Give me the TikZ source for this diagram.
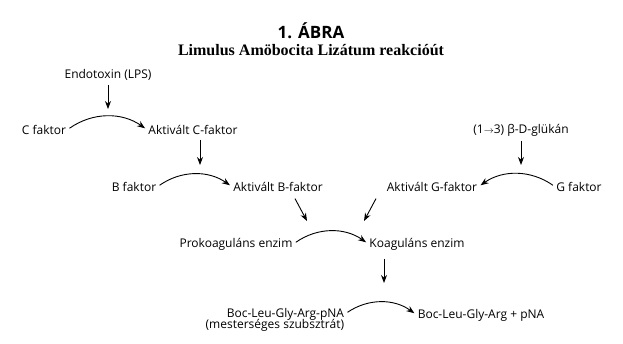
\documentclass[tikz,border=0pt]{standalone}
\usepackage{fontspec}
\setmainfont{Open Sans}
\newfontfamily\titleserif{Liberation Serif}
\usetikzlibrary{arrows.meta,calc}

\begin{document}
\begin{tikzpicture}[x=1pt,y=1pt,yscale=-1,xscale=1,
	lbl/.style={inner sep=0.75pt,font=\fontsize{12}{14}\selectfont},
	arr/.style={-{Stealth[length=8pt,width=6pt]},line width=0.9pt},
	bendarr/.style={arr,shorten <=3pt,shorten >=3pt}]
	\useasboundingbox (0,0) rectangle (623,343);
	
	% Title
	\node[inner sep=0.75pt,font=\bfseries\fontsize{17}{20}\selectfont] (title) at (311,31) {1. ÁBRA};
	\node[inner sep=0.75pt,font=\titleserif\bfseries\fontsize{16}{19}\selectfont] (subtitle) at (311,50) {Limulus Amöbocita Lizátum reakcióút};
	
	% Text Node
	\node[lbl] (endo) at (108,75) {Endotoxin (LPS)};
	\node[lbl] (cfak) at (44,130) {C faktor};
	\node[lbl] (cakt) at (193,130) {Aktivált C-faktor};
	\node[lbl] (bfak) at (134,187) {B faktor};
	\node[lbl] (bakt) at (278,187) {Aktivált B-faktor};
	\node[lbl] (glukan) at (521,130) {(1{\fontsize{10}{12}\selectfont$\rightarrow$}3) β-D-glükán};
	\node[lbl] (gakt) at (432,187) {Aktivált G-faktor};
	\node[lbl] (gfak) at (579,187) {G faktor};
	\node[lbl] (prok) at (236,244) {Prokoaguláns enzim};
	\node[lbl] (koag) at (417,244) {Koaguláns enzim};
	\node[lbl,anchor=east] (boc) at (345,320) {\begin{tabular}{@{}r@{}}Boc-Leu-Gly-Arg-pNA\\[-3pt](mesterséges szubsztrát)\end{tabular}};
	\node[lbl] (pna) at (481,315) {Boc-Leu-Gly-Arg + pNA};
	
	% arrow ends
	\coordinate (cin) at (108,109);
	\coordinate (bin) at (200,165);
	\coordinate (gin) at (521,165);
	\coordinate (pin1) at (307,221);
	\coordinate (pin2) at (364,221);
	\coordinate (sin) at (384,283);
	
	% Straight arrows
	\draw[arr] ($(endo.south)+(0,4)$) -- (cin);
	\draw[arr] ($(cakt.south)+(7,4)$) -- (bin);
	\draw[arr] ($(glukan.south)+(0,4)$) -- (gin);
	\draw[arr] ($(bakt.south)+(17,6)$) -- (pin1);
	\draw[arr] ($(gakt.south)+(-56,6)$) -- (pin2);
	\draw[arr] ($(koag.south)+(-33,8)$) -- (sin);
	
	% Curved arrows
	\draw[bendarr] (cfak.east) to[bend right=35] (cakt.west);
	\draw[bendarr] (bfak.east) to[bend right=35] (bakt.west);
	\draw[bendarr] (gfak.west) to[bend left=35] (gakt.east);
	\draw[bendarr] (prok.east) to[bend right=35] (koag.west);
	\draw[bendarr] ($(boc.east)+(0,-6)$) to[bend right=35] (pna.west);
\end{tikzpicture}
\end{document}
